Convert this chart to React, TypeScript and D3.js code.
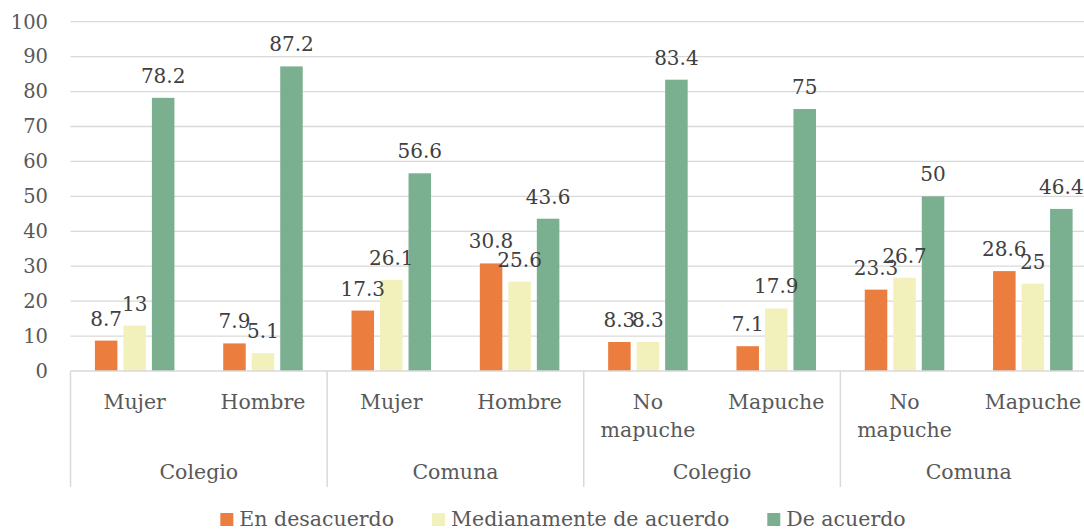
import React, { useEffect, useRef } from "react";
import * as d3 from "d3";

// Data
const categories = ["Mujer", "Hombre", "Mujer", "Hombre", "No mapuche", "Mapuche", "No mapuche", "Mapuche"];
const groups = ["Colegio", "Comuna", "Colegio", "Comuna"];
const seriesNames = ["En desacuerdo", "Medianamente de acuerdo", "De acuerdo"];
const enDesacuerdo = [8.7, 7.9, 17.3, 30.8, 8.3, 7.1, 23.3, 28.6];
const medianamente = [13, 5.1, 26.1, 25.6, 8.3, 17.9, 26.7, 25];
const deAcuerdo = [78.2, 87.2, 56.6, 43.6, 83.4, 75, 50, 46.4];
const yTicks = [0, 10, 20, 30, 40, 50, 60, 70, 80, 90, 100];

const colors = ["#EB7E3E", "#F2F1BB", "#7AB090"];
const FONT = "'DejaVu Serif', Georgia, serif";
const TEXT = "#595959";

const App: React.FC = () => {
  const svgRef = useRef<SVGSVGElement>(null);

  useEffect(() => {
    document.body.style.margin = "0";
    if (!svgRef.current) return;
    const width = 1084;
    const height = 531;
    const svg = d3.select(svgRef.current);
    svg.selectAll("*").remove();
    svg.attr("width", width).attr("height", height).style("display", "block");

    const left = 70.5;
    const right = 1097;
    const y = d3.scaleLinear().domain([0, 100]).range([371, 21.7]);

    const x0 = d3
      .scaleBand<number>()
      .domain(categories.map((_, i) => i))
      .range([left, right]);

    const innerW = 91.5;
    const x1 = d3.scaleBand<number>().domain([0, 1, 2]).range([0, innerW]).padding(0.21);

    const values = [enDesacuerdo, medianamente, deAcuerdo];

    // gridlines
    svg
      .append("g")
      .selectAll("line")
      .data(yTicks.filter((t) => t > 0))
      .join("line")
      .attr("x1", left)
      .attr("x2", width)
      .attr("y1", (d) => y(d))
      .attr("y2", (d) => y(d))
      .attr("stroke", "#D9D9D9")
      .attr("stroke-width", 1.3);

    // y tick labels
    svg
      .append("g")
      .selectAll("text")
      .data(yTicks)
      .join("text")
      .attr("x", 48)
      .attr("y", (d) => y(d))
      .attr("dy", "0.35em")
      .attr("text-anchor", "end")
      .attr("font-family", FONT)
      .attr("font-size", 19.5)
      .attr("fill", TEXT)
      .text((d) => d);

    // bars
    const barData = categories.flatMap((_, ci) =>
      values.map((arr, si) => ({ ci, si, v: arr[ci] }))
    );
    const barX = (d: { ci: number; si: number }) =>
      (x0(d.ci) as number) + (x0.bandwidth() - innerW) / 2 + (x1(d.si) as number);

    svg
      .append("g")
      .selectAll("rect")
      .data(barData)
      .join("rect")
      .attr("x", barX)
      .attr("y", (d) => y(d.v))
      .attr("width", x1.bandwidth())
      .attr("height", (d) => y(0) - y(d.v))
      .attr("fill", (d) => colors[d.si]);

    // data labels
    svg
      .append("g")
      .selectAll("text")
      .data(barData)
      .join("text")
      .attr("x", (d) => barX(d) + x1.bandwidth() / 2)
      .attr("y", (d) => y(d.v) - 15)
      .attr("text-anchor", "middle")
      .attr("font-family", FONT)
      .attr("font-size", 20)
      .attr("fill", "#404040")
      .text((d) => d.v);

    // x axis line
    svg
      .append("line")
      .attr("x1", left)
      .attr("x2", width)
      .attr("y1", y(0))
      .attr("y2", y(0))
      .attr("stroke", "#D9D9D9")
      .attr("stroke-width", 1.5);

    // group separators
    const sepBottom = 487;
    svg
      .append("g")
      .selectAll("line")
      .data(d3.range(0, categories.length + 1, 2))
      .join("line")
      .attr("x1", (d) => left + d * x0.step())
      .attr("x2", (d) => left + d * x0.step())
      .attr("y1", y(0))
      .attr("y2", sepBottom)
      .attr("stroke", "#D9D9D9")
      .attr("stroke-width", 1.5);

    // category labels
    const catG = svg.append("g");
    categories.forEach((c, i) => {
      const cx = (x0(i) as number) + x0.bandwidth() / 2;
      const words = c === "No mapuche" ? ["No", "mapuche"] : [c];
      words.forEach((w, k) => {
        catG
          .append("text")
          .attr("x", cx)
          .attr("y", 409 + k * 28)
          .attr("text-anchor", "middle")
          .attr("font-family", FONT)
          .attr("font-size", 20.5)
          .attr("fill", TEXT)
          .text(w);
      });
    });

    // group labels
    svg
      .append("g")
      .selectAll("text")
      .data(groups)
      .join("text")
      .attr("x", (_, i) => left + (i * 2 + 1) * x0.step())
      .attr("y", 479)
      .attr("text-anchor", "middle")
      .attr("font-family", FONT)
      .attr("font-size", 20.5)
      .attr("fill", TEXT)
      .text((d) => d);

    // legend
    const legend = svg.append("g");
    const items = seriesNames.map((name, i) => {
      const g = legend.append("g");
      g.append("rect").attr("x", 0).attr("y", -13).attr("width", 13).attr("height", 13).attr("fill", colors[i]);
      const t = g
        .append("text")
        .attr("x", 19)
        .attr("y", 0)
        .attr("font-family", FONT)
        .attr("font-size", 20.5)
        .attr("fill", TEXT)
        .text(name);
      const w = 19 + (t.node() as SVGTextElement).getComputedTextLength();
      return { g, w };
    });
    const gap = 38;
    const total = d3.sum(items, (d) => d.w) + gap * (items.length - 1);
    let cursor = 563 - total / 2;
    items.forEach((it) => {
      it.g.attr("transform", `translate(${cursor},526)`);
      cursor += it.w + gap;
    });
  }, []);

  return <svg ref={svgRef} />;
};

export default App;
